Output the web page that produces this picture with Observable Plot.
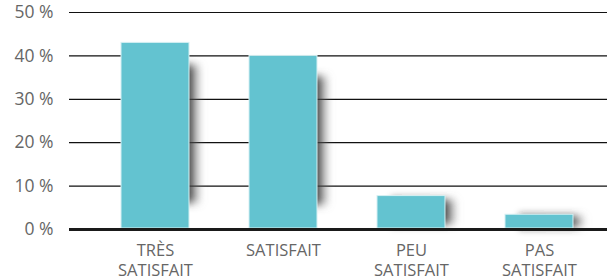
<!DOCTYPE html>
<html>
<head>
<meta charset="utf-8">
<script src="https://cdn.jsdelivr.net/npm/d3@7"></script>
<script src="https://cdn.jsdelivr.net/npm/@observablehq/plot@0.6"></script>
<style>
  html, body { margin: 0; padding: 0; background: #fff; }
  #chart { width: 607px; height: 278px; }
</style>
</head>
<body>
<div id="chart"></div>
<svg width="0" height="0" style="position:absolute">
  <defs>
    <linearGradient id="shadowGrad" x1="0" y1="0" x2="1" y2="0">
      <stop offset="0" stop-color="#222" stop-opacity="0.95"/>
      <stop offset="0.8" stop-color="#333" stop-opacity="0.9"/>
      <stop offset="1" stop-color="#999" stop-opacity="0"/>
    </linearGradient>
    <filter id="shadowBlur" x="-30%" y="-30%" width="160%" height="160%">
      <feGaussianBlur stdDeviation="3 4"/>
    </filter>
  </defs>
</svg>
<script>
const categories = ["TRÈS\nSATISFAIT", "SATISFAIT", "PEU\nSATISFAIT", "PAS\nSATISFAIT"];
const values = [43, 40, 7.7, 3.4];
const yTicks = [0, 10, 20, 30, 40, 50];

const data = categories.map((c, i) => ({category: c, value: values[i]}));

const chart = Plot.plot({
  width: 607,
  height: 278,
  marginTop: 12,
  marginBottom: 49,
  marginLeft: 69,
  marginRight: 0,
  style: {fontFamily: "'Open Sans', sans-serif", background: "#fff"},
  x: {type: "band", domain: categories, range: [91, 603], paddingInner: 0.47, paddingOuter: 0.235, axis: null},
  y: {domain: [0, 50], ticks: yTicks, axis: null},
  marks: [
    Plot.ruleY(yTicks.filter(t => t > 0), {stroke: "#111", strokeWidth: 1.2}),
    Plot.barY(data, {
      x: "category",
      y1: d => d.value * 0.14,
      y2: d => d.value * 0.88,
      dx: 14,
      fill: "url(#shadowGrad)"
    }),
    Plot.barY(data, {x: "category", y: "value", fill: "#63c3d0", stroke: "#d6f0f3", strokeWidth: 1, insetBottom: 1}),
    Plot.ruleY([0], {stroke: "#1a1a1a", strokeWidth: 3}),
    Plot.text(yTicks, {
      y: d => d, text: d => d + " %", frameAnchor: "left", textAnchor: "end", dx: -16,
      fill: "#666", fontSize: 17.5
    }),
    Plot.text(categories, {
      x: d => d, text: d => d, frameAnchor: "bottom", dy: 12, lineAnchor: "top",
      lineHeight: 1.24, fill: "#666", fontSize: 16.5
    })
  ]
});

const bars = chart.querySelectorAll('g[aria-label="bar"]');
if (bars.length) bars[0].setAttribute("filter", "url(#shadowBlur)");

document.getElementById("chart").appendChild(chart);
</script>
</body>
</html>
